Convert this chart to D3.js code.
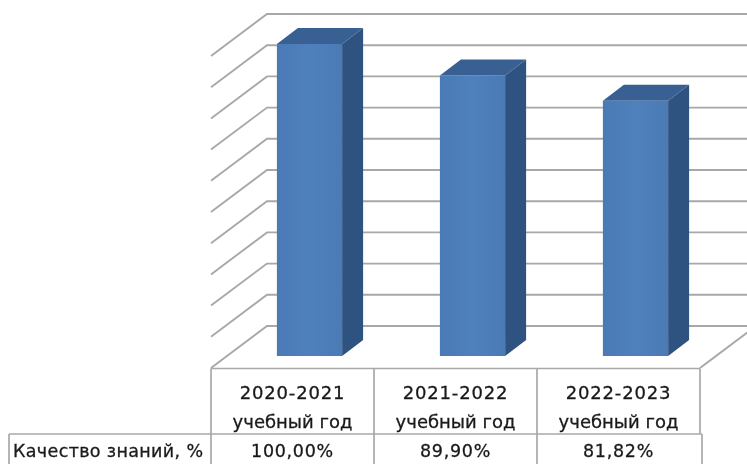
<!DOCTYPE html>
<html>
<head>
<meta charset="utf-8">
<script src="https://cdn.jsdelivr.net/npm/d3@7"></script>
<style>
  html,body{margin:0;padding:0;background:#fff;overflow:hidden}
  text{font-family:"DejaVu Sans",sans-serif;fill:#1a1a1a;stroke:#1a1a1a;stroke-width:0.3}
</style>
</head>
<body>
<script>
const years = ["2020-2021","2021-2022","2022-2023"];
const yearNote = "учебный год";
const rowTitle = "Качество знаний, %";
const quality = [100,89.9,81.82];
const qualityLabels = ["100,00%","89,90%","81,82%"];
const gridTicks = [0,10,20,30,40,50,60,70,80,90,100];

const width = 747, height = 464;
const depth = {dx:56, dy:-42};        // wall offset of the 3d box
const barDepth = {dx:21, dy:-16};     // depth of one bar
const barShift = {dx:17, dy:-12};     // bar sits inside the floor

const x = d3.scaleBand().domain(years).range([211,700]).paddingInner(0.6).paddingOuter(0.3);
const y = d3.scaleLinear().domain([0,100]).range([368,56]);
const cols = d3.scaleBand().domain(years).range([211,700]);

const svg = d3.select("body").append("svg")
  .attr("width",width).attr("height",height);

const defs = svg.append("defs");
defs.append("filter").attr("id","soft")
  .attr("x","-5%").attr("y","-5%").attr("width","110%").attr("height","110%")
  .append("feGaussianBlur").attr("stdDeviation",0.55);
const grad = defs.append("linearGradient").attr("id","front");
grad.append("stop").attr("offset","0").attr("stop-color","#4a7ab5");
grad.append("stop").attr("offset","0.5").attr("stop-color","#5081bd");
grad.append("stop").attr("offset","1").attr("stop-color","#4a7ab5");

const root = svg.append("g").attr("filter","url(#soft)");

// walls
const grid = root.append("g").attr("stroke","#a8a8a8").attr("stroke-width",1.9).attr("fill","none");
grid.selectAll("path.wall").data(gridTicks).enter().append("path")
  .attr("class","wall")
  .attr("d",d=>`M${x.range()[0]},${y(d)}l${depth.dx},${depth.dy}H${width+10}`);
grid.append("path")
  .attr("d",`M${cols.range()[1]},${y(0)}l${depth.dx},${depth.dy}`);

// bars
const bars = root.selectAll("g.bar").data(years).enter().append("g")
  .attr("class","bar")
  .attr("transform",`translate(${barShift.dx},${barShift.dy})`);
const bw = x.bandwidth();
bars.append("path").attr("fill","#2f5280")
  .attr("d",(d,i)=>`M${x(d)+bw},${y(quality[i])}l${barDepth.dx},${barDepth.dy}V${y(0)+barDepth.dy}l${-barDepth.dx},${-barDepth.dy}Z`);
bars.append("path").attr("fill","#376092")
  .attr("d",(d,i)=>`M${x(d)},${y(quality[i])}l${barDepth.dx},${barDepth.dy}h${bw}l${-barDepth.dx},${-barDepth.dy}Z`);
bars.append("rect").attr("fill","url(#front)")
  .attr("x",d=>x(d)).attr("width",bw)
  .attr("y",(d,i)=>y(quality[i])).attr("height",(d,i)=>y(0)-y(quality[i]));

// table under the chart
const rowTop = 368.5, rowMid = 434, rowBottom = 470, tableLeft = 9;
const table = root.append("g").attr("stroke","#a8a8a8").attr("stroke-width",1.7).attr("fill","none");
table.append("path").attr("d",`M${cols.range()[0]},${rowTop}H${cols.range()[1]}`);
table.append("path").attr("d",`M${tableLeft},${rowMid}H${cols.range()[1]+2}`);
table.append("path").attr("d",`M${tableLeft},${rowMid}V${rowBottom}`);
table.selectAll("path.col").data(years).enter().append("path")
  .attr("class","col")
  .attr("d",d=>`M${cols(d)},${rowTop}V${rowBottom}`);
table.append("path").attr("d",`M${cols.range()[1]},${rowTop}V${rowMid}`);
table.append("path").attr("d",`M${cols.range()[1]+2},${rowMid}V${rowBottom}`);

const cx = d=>cols(d)+cols.bandwidth()/2;
root.selectAll("text.year").data(years).enter().append("text")
  .attr("class","year").attr("x",cx).attr("y",399)
  .attr("text-anchor","middle").attr("font-size",18).attr("letter-spacing",0.8)
  .text(d=>d);
root.selectAll("text.note").data(years).enter().append("text")
  .attr("class","note").attr("x",cx).attr("y",428)
  .attr("text-anchor","middle").attr("font-size",18).attr("letter-spacing",0)
  .text(yearNote);
root.selectAll("text.val").data(years).enter().append("text")
  .attr("class","val").attr("x",cx).attr("y",457)
  .attr("text-anchor","middle").attr("font-size",17.5).attr("letter-spacing",0.7)
  .attr("stroke-width",0.5)
  .text((d,i)=>qualityLabels[i]);
root.append("text").attr("x",13).attr("y",457).attr("font-size",17.5).attr("letter-spacing",0.35)
  .text(rowTitle);
</script>
</body>
</html>
